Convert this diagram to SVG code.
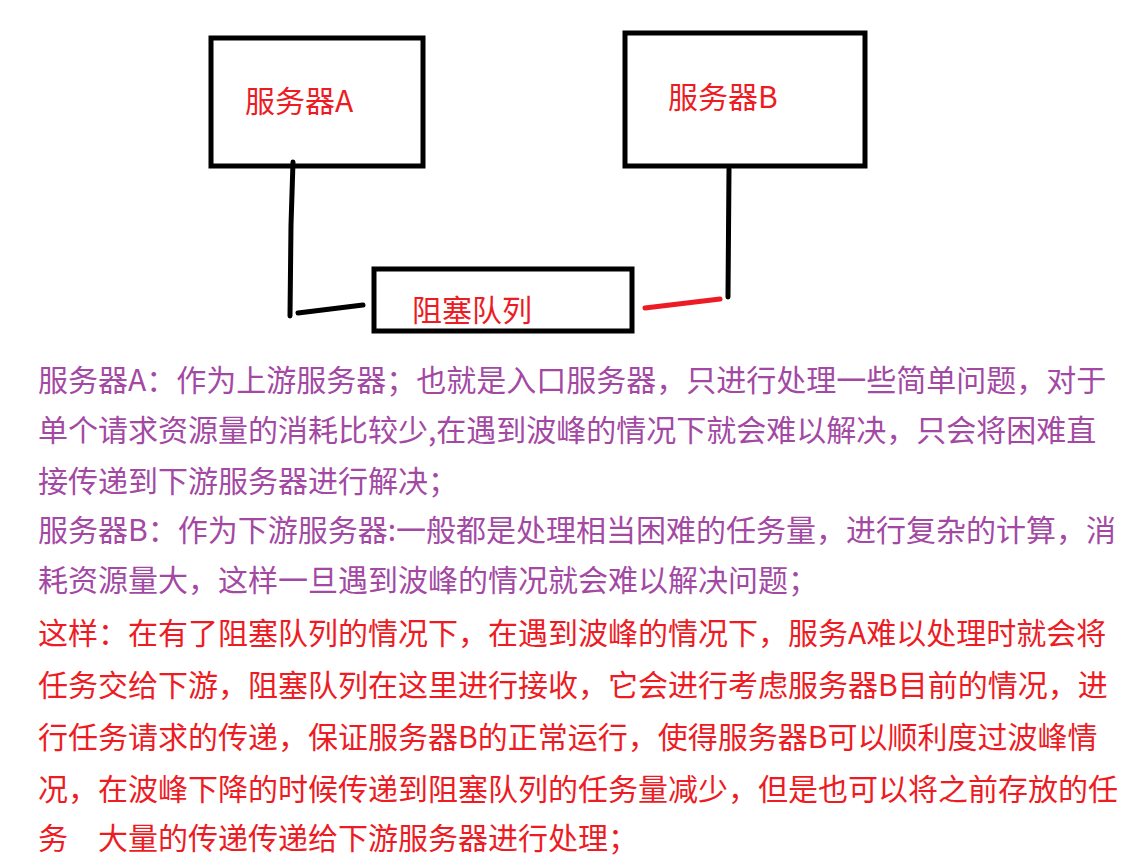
<svg xmlns="http://www.w3.org/2000/svg" width="1141" height="865" viewBox="0 0 1141 865">
<style>
.box{fill:none;stroke:#000;stroke-width:5}
.lbl{font-family:"Microsoft YaHei","Noto Sans CJK SC",sans-serif;font-size:30px;fill:#ed1c24}
.p{font-family:"Microsoft YaHei","Noto Sans CJK SC",sans-serif;font-size:30px;fill:#a349a4}
.r{font-family:"Microsoft YaHei","Noto Sans CJK SC",sans-serif;font-size:30px;fill:#ed1c24}
.ln{fill:none;stroke:#000;stroke-width:5;stroke-linecap:round}
</style>
<rect width="1141" height="865" fill="#fff"/>
<g id="serverA">
<rect class="box" x="211" y="38" width="212" height="128"/>
<text class="lbl" x="245" y="112">服务器A</text>
</g>
<g id="serverB">
<rect class="box" x="625" y="33" width="240" height="133"/>
<text class="lbl" x="668" y="108">服务器B</text>
</g>
<g id="queue">
<rect class="box" x="374" y="269" width="258" height="62"/>
<text class="lbl" x="412" y="321">阻塞队列</text>
</g>
<g id="connectors">
<polyline class="ln" points="293,162 291,225 290,316"/>
<line class="ln" x1="298" y1="313" x2="363" y2="305"/>
<line class="ln" x1="729" y1="169" x2="728" y2="297"/>
<line class="ln" x1="645" y1="308" x2="720" y2="299" stroke="#ed1c24" style="stroke:#ed1c24"/>
</g>
<g id="text">
<text class="p" x="38" y="391">服务器A：作为上游服务器；也就是入口服务器，只进行处理一些简单问题，对于</text>
<text class="p" x="38" y="441">单个请求资源量的消耗比较少,在遇到波峰的情况下就会难以解决，只会将困难直</text>
<text class="p" x="38" y="492">接传递到下游服务器进行解决；</text>
<text class="p" x="38" y="541">服务器B：作为下游服务器:一般都是处理相当困难的任务量，进行复杂的计算，消</text>
<text class="p" x="38" y="591">耗资源量大，这样一旦遇到波峰的情况就会难以解决问题；</text>
<text class="r" x="38" y="644">这样：在有了阻塞队列的情况下，在遇到波峰的情况下，服务A难以处理时就会将</text>
<text class="r" x="38" y="696">任务交给下游，阻塞队列在这里进行接收，它会进行考虑服务器B目前的情况，进</text>
<text class="r" x="38" y="748">行任务请求的传递，保证服务器B的正常运行，使得服务器B可以顺利度过波峰情</text>
<text class="r" x="38" y="800">况，在波峰下降的时候传递到阻塞队列的任务量减少，但是也可以将之前存放的任</text>
<text class="r" x="38" y="849">务</text>
<text class="r" x="98" y="849">大量的传递传递给下游服务器进行处理；</text>
</g>
</svg>
